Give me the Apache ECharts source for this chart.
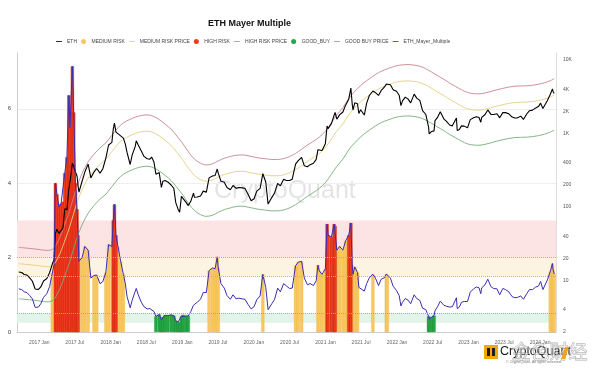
<!DOCTYPE html>
<html>
<head>
<meta charset="utf-8">
<script src="https://cdn.jsdelivr.net/npm/echarts/dist/echarts.min.js"></script>
<style>html,body{margin:0;padding:0;background:#fff}#c{width:600px;height:372px}</style>
</head>
<body>
<div id="c"></div>
<script>
// ---------------- data ----------------
const dates = [
'2016-09-10','2016-09-25','2016-10-08','2016-10-22','2016-11-05','2016-11-19','2016-12-03','2016-12-10','2016-12-20','2017-01-01',
'2017-01-15','2017-02-01','2017-02-15','2017-03-01','2017-03-10','2017-03-17','2017-03-25','2017-04-04','2017-04-15','2017-04-25',
'2017-05-04','2017-05-15','2017-05-25','2017-05-31','2017-06-12','2017-06-19','2017-06-28','2017-07-06','2017-07-11','2017-07-16',
'2017-08-01','2017-08-15','2017-09-01','2017-09-15','2017-10-01','2017-10-15','2017-11-01','2017-11-15','2017-12-01','2017-12-15',
'2018-01-01','2018-01-08','2018-01-14','2018-01-22','2018-02-01','2018-02-15','2018-03-01','2018-03-11','2018-03-20','2018-04-05',
'2018-04-15','2018-05-01','2018-05-06','2018-05-15','2018-06-01','2018-06-15','2018-07-01','2018-07-15','2018-07-24','2018-08-05',
'2018-08-15','2018-09-01','2018-09-12','2018-09-20','2018-10-01','2018-10-15','2018-11-01','2018-11-15','2018-11-25','2018-12-07',
'2018-12-15','2018-12-24','2019-01-01','2019-01-15','2019-01-28','2019-02-10','2019-02-24','2019-03-01','2019-03-15','2019-04-01',
'2019-04-15','2019-05-01','2019-05-15','2019-06-01','2019-06-15','2019-06-26','2019-07-01','2019-07-15','2019-08-01','2019-08-15',
'2019-09-01','2019-09-15','2019-10-01','2019-10-15','2019-11-01','2019-11-15','2019-12-01','2019-12-17','2020-01-01','2020-01-15',
'2020-02-01','2020-02-15','2020-03-01','2020-03-13','2020-04-01','2020-04-15','2020-05-01','2020-05-15','2020-06-01','2020-06-15',
'2020-07-01','2020-07-15','2020-08-01','2020-08-15','2020-09-01','2020-09-15','2020-10-01','2020-10-15','2020-11-01','2020-11-15',
'2020-11-24','2020-12-01','2020-12-15','2021-01-01','2021-01-10','2021-01-15','2021-02-01','2021-02-15','2021-02-20','2021-03-01',
'2021-03-15','2021-04-01','2021-04-15','2021-05-01','2021-05-12','2021-05-19','2021-05-23','2021-06-01','2021-06-15','2021-06-22',
'2021-07-01','2021-07-20','2021-08-01','2021-08-15','2021-09-02','2021-09-15','2021-10-01','2021-10-15','2021-11-01','2021-11-10',
'2021-11-15','2021-12-01','2021-12-15','2022-01-01','2022-01-15','2022-01-24','2022-02-01','2022-02-15','2022-03-01','2022-03-15',
'2022-04-02','2022-04-15','2022-05-01','2022-05-15','2022-06-01','2022-06-15','2022-06-18','2022-07-01','2022-07-13','2022-07-18',
'2022-08-01','2022-08-14','2022-09-01','2022-09-15','2022-10-01','2022-10-15','2022-11-05','2022-11-09','2022-11-20','2022-12-01',
'2022-12-15','2023-01-01','2023-01-15','2023-02-01','2023-02-15','2023-03-01','2023-03-10','2023-03-15','2023-04-01','2023-04-15',
'2023-05-01','2023-05-15','2023-06-01','2023-06-15','2023-07-01','2023-07-15','2023-08-01','2023-08-18','2023-09-01','2023-09-15',
'2023-10-01','2023-10-15','2023-11-01','2023-11-15','2023-12-01','2023-12-15','2024-01-01','2024-01-11','2024-01-23','2024-02-01',
'2024-02-15','2024-03-01','2024-03-12','2024-03-15','2024-03-21'
];

const ethPrice = [
13.1,12.9,12.1,11.9,10.9,9.8,7.7,7.3,7.6,8.2,
9.9,10.7,12.8,16.8,19.3,44,50,44,48,52,
95,92,175,220,395,360,300,265,200,160,
225,300,385,250,300,335,290,330,465,700,
760,1150,1390,1050,1030,930,870,720,550,380,
510,670,800,710,580,490,455,450,480,410,
280,295,185,225,230,220,200,180,115,93,
85,140,140,118,105,120,155,136,137,142,
165,160,250,265,270,330,290,225,218,185,
172,197,180,185,183,180,150,122,130,165,
180,285,220,110,135,155,210,195,240,230,
230,240,385,430,475,365,355,378,395,447,
605,590,590,730,1270,1170,1370,1780,1950,1570,
1800,1970,2440,2940,4170,2500,2100,2630,2550,1880,
2110,1790,2600,3300,3800,3610,3310,3870,4320,4730,
4630,4630,3960,3770,3330,2400,2790,3130,2970,2620,
3450,3040,2830,2060,1820,1230,990,1070,1090,1500,
1680,1980,1590,1470,1310,1275,1630,1100,1140,1275,
1265,1200,1550,1640,1700,1660,1430,1660,1820,2100,
1830,1820,1860,1640,1930,1930,1860,1680,1630,1640,
1730,1560,1850,2050,2090,2220,2350,2600,2200,2300,
2820,3430,4060,3740,3520
];

const mayerMultiple = [
1.16,1.14,1.08,1.06,0.98,0.89,0.66,0.61,0.67,0.76,
0.93,1.03,1.22,1.58,1.8,4.0,3.7,3.35,3.45,3.5,
4.27,4.7,6.36,5.5,7.14,5.9,4.0,3.3,2.6,1.9,
2.0,2.3,2.2,1.45,1.52,1.53,1.3,1.35,1.6,2.35,
2.3,3.0,3.43,2.6,2.3,1.9,1.55,1.3,0.95,0.65,
0.85,1.1,1.17,1.02,0.8,0.68,0.62,0.63,0.67,0.55,
0.42,0.47,0.32,0.4,0.45,0.44,0.46,0.44,0.3,0.27,
0.25,0.42,0.46,0.43,0.43,0.55,0.72,0.75,0.8,0.88,
1.06,1.06,1.65,1.72,1.7,2.02,1.72,1.3,1.18,0.98,
0.88,1.0,0.89,0.91,0.89,0.88,0.74,0.62,0.68,0.87,
0.97,1.55,1.2,0.6,0.76,0.87,1.18,1.08,1.3,1.24,
1.17,1.18,1.78,1.88,1.9,1.45,1.27,1.3,1.25,1.38,
1.8,1.64,1.55,1.7,2.9,2.6,2.55,2.9,2.85,2.2,
2.3,2.2,2.45,2.6,2.93,1.8,1.55,1.75,1.6,1.2,
1.22,1.1,1.3,1.46,1.55,1.45,1.25,1.42,1.46,1.56,
1.52,1.45,1.23,1.12,0.98,0.7,0.8,0.9,0.86,0.76,
1.0,0.9,0.85,0.64,0.6,0.42,0.35,0.4,0.44,0.57,
0.69,0.83,0.72,0.69,0.67,0.68,0.92,0.63,0.67,0.8,
0.82,0.82,1.07,1.16,1.21,1.19,1.03,1.19,1.27,1.42,
1.22,1.17,1.16,1.0,1.17,1.14,1.08,0.95,0.92,0.93,
0.97,0.88,1.03,1.14,1.14,1.2,1.24,1.36,1.14,1.17,
1.4,1.63,1.84,1.67,1.56
];

const bandDates = [
'2016-09-10','2016-10-01','2016-11-01','2016-12-01','2017-01-01','2017-02-01','2017-03-01','2017-04-01','2017-05-01','2017-06-01',
'2017-07-01','2017-08-01','2017-09-01','2017-10-01','2017-11-01','2017-12-01','2018-01-01','2018-02-01','2018-03-01','2018-04-01',
'2018-05-01','2018-06-01','2018-07-01','2018-08-01','2018-09-01','2018-10-01','2018-11-01','2018-12-01','2019-01-01','2019-02-01',
'2019-03-01','2019-04-01','2019-05-01','2019-06-01','2019-07-01','2019-08-01','2019-09-01','2019-10-01','2019-11-01','2019-12-01',
'2020-01-01','2020-02-01','2020-03-01','2020-04-01','2020-05-01','2020-06-01','2020-07-01','2020-08-01','2020-09-01','2020-10-01',
'2020-11-01','2020-12-01','2021-01-01','2021-02-01','2021-03-01','2021-04-01','2021-05-01','2021-06-01','2021-07-01','2021-08-01',
'2021-09-01','2021-10-01','2021-11-01','2021-12-01','2022-01-01','2022-02-01','2022-03-01','2022-04-01','2022-05-01','2022-06-01',
'2022-07-01','2022-08-01','2022-09-01','2022-10-01','2022-11-01','2022-12-01','2023-01-01','2023-02-01','2023-03-01','2023-04-01',
'2023-05-01','2023-06-01','2023-07-01','2023-08-01','2023-09-01','2023-10-01','2023-11-01','2023-12-01','2024-01-01','2024-02-01',
'2024-03-01','2024-03-21'
];

const highRiskPrice = [
28.3,28.0,27.5,27.0,26.3,25.8,26.5,35,55,95,
175,288,413,525,638,750,950,1200,1400,1550,
1675,1763,1800,1725,1550,1350,1150,925,725,550,
450,395,375,388,425,463,488,508,513,500,
480,463,455,445,445,458,488,538,613,700,
788,900,1075,1400,1800,2250,3000,3750,4500,5250,
6000,6750,7375,7875,8375,8625,8700,8550,8250,7625,
6875,6125,5500,4875,4375,3950,3625,3500,3475,3575,
3750,3950,4125,4300,4425,4450,4475,4550,4700,4925,
5250,5575
];

const mediumRiskPrice = [
17.0,16.8,16.5,16.2,15.8,15.5,15.9,21,33,57,
105,173,248,315,383,450,570,720,840,930,
1005,1058,1080,1035,930,810,690,555,435,330,
270,237,225,233,255,278,293,305,308,300,
288,278,273,267,267,275,293,323,368,420,
473,540,645,840,1080,1350,1800,2250,2700,3150,
3600,4050,4425,4725,5025,5175,5220,5130,4950,4575,
4125,3675,3300,2925,2625,2370,2175,2100,2085,2145,
2250,2370,2475,2580,2655,2670,2685,2730,2820,2955,
3150,3345
];

const goodBuyPrice = [
5.65,5.6,5.5,5.4,5.25,5.15,5.3,7,11,19,
35,57.5,82.5,105,128,150,190,240,280,310,
335,353,360,345,310,270,230,185,145,110,
90,79,75,77.5,85,92.5,97.5,102,103,100,
96,92.5,91,89,89,91.5,97.5,108,123,140,
158,180,215,280,360,450,600,750,900,1050,
1200,1350,1475,1575,1675,1725,1740,1710,1650,1525,
1375,1225,1100,975,875,790,725,700,695,715,
750,790,825,860,885,890,895,910,940,985,
1050,1115
];

// zone thresholds of the Mayer Multiple
const highRiskLevel = 2.5;
const mediumRiskLevel = 1.5;
const goodBuyLevel = 0.5;
// shaded reference bands on the multiple axis
const highBand = [2, 3];
const mediumBand = [1.5, 2];
const goodBand = [0.25, 0.5];
const dottedLevels = [2, 1.5, 0.5];

// axis ticks
const mmTicks = [0, 2, 4, 6];
const priceTicks = [2, 4, 10, 20, 40, 100, 200, 400, 1000, 2000, 4000, 10000];
const priceTickLabels = ['2','4','10','20','40','100','200','400','1K','2K','4K','10K'];
const xTickDates = ['2017-01-01','2017-07-01','2018-01-01','2018-07-01','2019-01-01','2019-07-01','2020-01-01','2020-07-01',
  '2021-01-01','2021-07-01','2022-01-01','2022-07-01','2023-01-01','2023-07-01','2024-01-01'];
const xRange = ['2016-09-09', '2024-03-22'];
const monthNames = ['Jan','Feb','Mar','Apr','May','Jun','Jul','Aug','Sep','Oct','Nov','Dec'];

// ---------------- chart ----------------
const FONT = '"Liberation Sans", Arial, sans-serif';
const priceMin = 2, priceMax = 12500;
const tickLogs = priceTicks.map(Math.log10);
const ts = s => { const p = s.split('-').map(Number); return new Date(p[0], p[1] - 1, p[2]).getTime(); };
const xTickTimes = xTickDates.map(ts);
const pair = (ds, vs) => ds.map((d, i) => [ts(d), vs[i]]);
const zone = test => dates.map((d, i) => [ts(d), test(mayerMultiple[i]) ? mayerMultiple[i] : null]);
const lineIcon = 'path://M0,0H12V1.6H0Z';

const C = {
  eth: '#000000', mm: '#3b2db2',
  high: '#ee3a1d', med: '#f8c760', good: '#23a744',
  highP: '#c9838d', medP: '#e5cd84', goodP: '#78ad78'
};

const chart = echarts.init(document.getElementById('c'), null, {renderer: 'canvas', width: 600, height: 372});

const option = {
  animation: false,
  backgroundColor: '#ffffff',
  textStyle: {fontFamily: FONT},
  title: {
    text: 'ETH Mayer Multiple', left: 208, top: 19, padding: 0,
    textStyle: {fontSize: 9, fontWeight: 'bold', color: '#111', fontFamily: FONT}
  },
  legend: {
    top: 39, left: 56, padding: 0, itemWidth: 6, itemHeight: 5, itemGap: 4,
    itemStyle: {borderWidth: 0},
    textStyle: {fontSize: 5, color: '#444', fontFamily: FONT},
    data: [
      {name: 'ETH', icon: lineIcon},
      {name: 'MEDIUM RISK', icon: 'circle'},
      {name: 'MEDIUM RISK PRICE', icon: lineIcon},
      {name: 'HIGH RISK', icon: 'circle'},
      {name: 'HIGH RISK PRICE', icon: lineIcon},
      {name: 'GOOD_BUY', icon: 'circle'},
      {name: 'GOOD BUY PRICE', icon: lineIcon},
      {name: 'ETH_Mayer_Multiple', icon: lineIcon}
    ]
  },
  grid: {left: 17, right: 44, top: 53, bottom: 40, containLabel: false, outerBoundsMode: 'none'},
  xAxis: [
    {type: 'time', min: ts(xRange[0]), max: ts(xRange[1]), show: false},
    {
      type: 'value', position: 'bottom', min: ts(xRange[0]), max: ts(xRange[1]),
      axisLine: {show: true, onZero: false, lineStyle: {color: '#cccccc', width: 1}},
      axisTick: {show: false},
      splitLine: {show: false},
      axisLabel: {
        customValues: xTickTimes, fontSize: 5, color: '#666', margin: 8, fontFamily: FONT,
        formatter: v => { const d = new Date(v); return d.getFullYear() + ' ' + monthNames[d.getMonth()]; }
      }
    }
  ],
  yAxis: [
    {
      type: 'value', position: 'left', min: 0, max: 7.5,
      axisLine: {show: true, lineStyle: {color: '#cccccc'}},
      axisTick: {show: false, customValues: mmTicks},
      axisLabel: {customValues: mmTicks, fontSize: 6, color: '#444', margin: 6, fontFamily: FONT},
      splitLine: {show: true, lineStyle: {color: '#efefef', width: 1}}
    },
    {type: 'log', position: 'right', min: priceMin, max: priceMax, show: false},
    {
      type: 'value', position: 'right', min: Math.log10(priceMin), max: Math.log10(priceMax),
      axisLine: {show: true, lineStyle: {color: '#dddddd'}},
      axisTick: {show: false},
      splitLine: {show: false},
      axisLabel: {
        customValues: tickLogs, fontSize: 5, color: '#555', margin: 7, fontFamily: FONT,
        formatter: v => { const i = tickLogs.findIndex(t => Math.abs(t - v) < 1e-6); return i >= 0 ? priceTickLabels[i] : ''; }
      }
    }
  ],
  series: [
    {name: 'GOOD BUY PRICE', type: 'line', yAxisIndex: 1, data: pair(bandDates, goodBuyPrice), showSymbol: false, smooth: 0.35,
     lineStyle: {width: 0.9, color: C.goodP}, itemStyle: {color: C.goodP}, silent: true},
    {name: 'MEDIUM RISK PRICE', type: 'line', yAxisIndex: 1, data: pair(bandDates, mediumRiskPrice), showSymbol: false, smooth: 0.35,
     lineStyle: {width: 0.9, color: C.medP}, itemStyle: {color: C.medP}, silent: true},
    {name: 'HIGH RISK PRICE', type: 'line', yAxisIndex: 1, data: pair(bandDates, highRiskPrice), showSymbol: false, smooth: 0.35,
     lineStyle: {width: 0.9, color: C.highP}, itemStyle: {color: C.highP}, silent: true},
    {name: 'ETH', type: 'line', yAxisIndex: 1, data: pair(dates, ethPrice), showSymbol: false,
     lineStyle: {width: 1.1, color: C.eth}, itemStyle: {color: C.eth}, silent: true},
    {name: 'MEDIUM RISK', type: 'bar', yAxisIndex: 0, barWidth: 3.2, barGap: '-100%',
     data: zone(v => v >= mediumRiskLevel && v < highRiskLevel),
     itemStyle: {color: C.med, borderColor: '#efb54c', borderWidth: 0.3}, silent: true},
    {name: 'HIGH RISK', type: 'bar', yAxisIndex: 0, barWidth: 3.2, barGap: '-100%',
     data: zone(v => v >= highRiskLevel),
     itemStyle: {color: C.high, borderColor: '#c4220f', borderWidth: 0.4}, silent: true},
    {name: 'GOOD_BUY', type: 'bar', yAxisIndex: 0, barWidth: 3.2, barGap: '-100%',
     data: zone(v => v <= goodBuyLevel),
     itemStyle: {color: C.good, borderColor: '#178c35', borderWidth: 0.4}, silent: true},
    {name: 'ETH_Mayer_Multiple', type: 'line', yAxisIndex: 0, data: pair(dates, mayerMultiple), showSymbol: false,
     lineStyle: {width: 1, color: C.mm}, itemStyle: {color: C.mm}, silent: true,
     markArea: {
       silent: true,
       data: [
         [{yAxis: highBand[0], itemStyle: {color: '#fde4e4', opacity: 1}}, {yAxis: highBand[1]}],
         [{yAxis: mediumBand[0], itemStyle: {color: '#fdf3e3', opacity: 1}}, {yAxis: mediumBand[1]}],
         [{yAxis: goodBand[0], itemStyle: {color: '#e2f3ea', opacity: 1}}, {yAxis: goodBand[1]}]
       ]
     },
     markLine: {
       silent: true, symbol: 'none', label: {show: false},
       data: [
         {yAxis: dottedLevels[0], lineStyle: {color: '#d7a27a', type: 'dotted', width: 1}},
         {yAxis: dottedLevels[1], lineStyle: {color: '#cdb06a', type: 'dotted', width: 1}},
         {yAxis: dottedLevels[2], lineStyle: {color: '#86b795', type: 'dotted', width: 1}}
       ]
     }
    }
  ],
  graphic: [
    {type: 'text', left: 214, top: 179, z: -1, silent: true,
     style: {text: 'CryptoQuant', fontSize: 25, fontFamily: FONT, fill: 'rgba(0,0,0,0.11)'}},
    {type: 'group', left: 484, top: 345, silent: true, children: [
      {type: 'rect', shape: {x: 0, y: 1, width: 14, height: 14}, style: {fill: '#f5a800'}},
      {type: 'rect', shape: {x: 3, y: 4, width: 3, height: 8}, style: {fill: '#1e1e1e'}},
      {type: 'rect', shape: {x: 8, y: 4, width: 3, height: 8}, style: {fill: '#1e1e1e'}},
      {type: 'text', x: 16, y: 1, style: {text: 'CryptoQuant', fontSize: 12.5, fill: '#1a1a1a', fontFamily: FONT}},
      {type: 'text', x: 22, y: 15.5, style: {text: '© CryptoQuant. All rights reserved.', fontSize: 3.6, fill: '#777', fontFamily: FONT}}
    ]},
    {type: 'text', left: 511, top: 342, silent: true,
     style: {text: '金色财经', fontSize: 19, fontFamily: '"Noto Sans CJK SC", sans-serif',
             fill: 'rgba(255,255,255,0.45)', stroke: 'rgba(110,110,110,0.55)', lineWidth: 0.8}},
    {type: 'polygon', silent: true, shape: {points: [[565, 347], [569, 347], [565, 359], [561, 359]]}, style: {fill: '#f2a41c'}}
  ]
};
chart.setOption(option);
</script>
</body>
</html>
